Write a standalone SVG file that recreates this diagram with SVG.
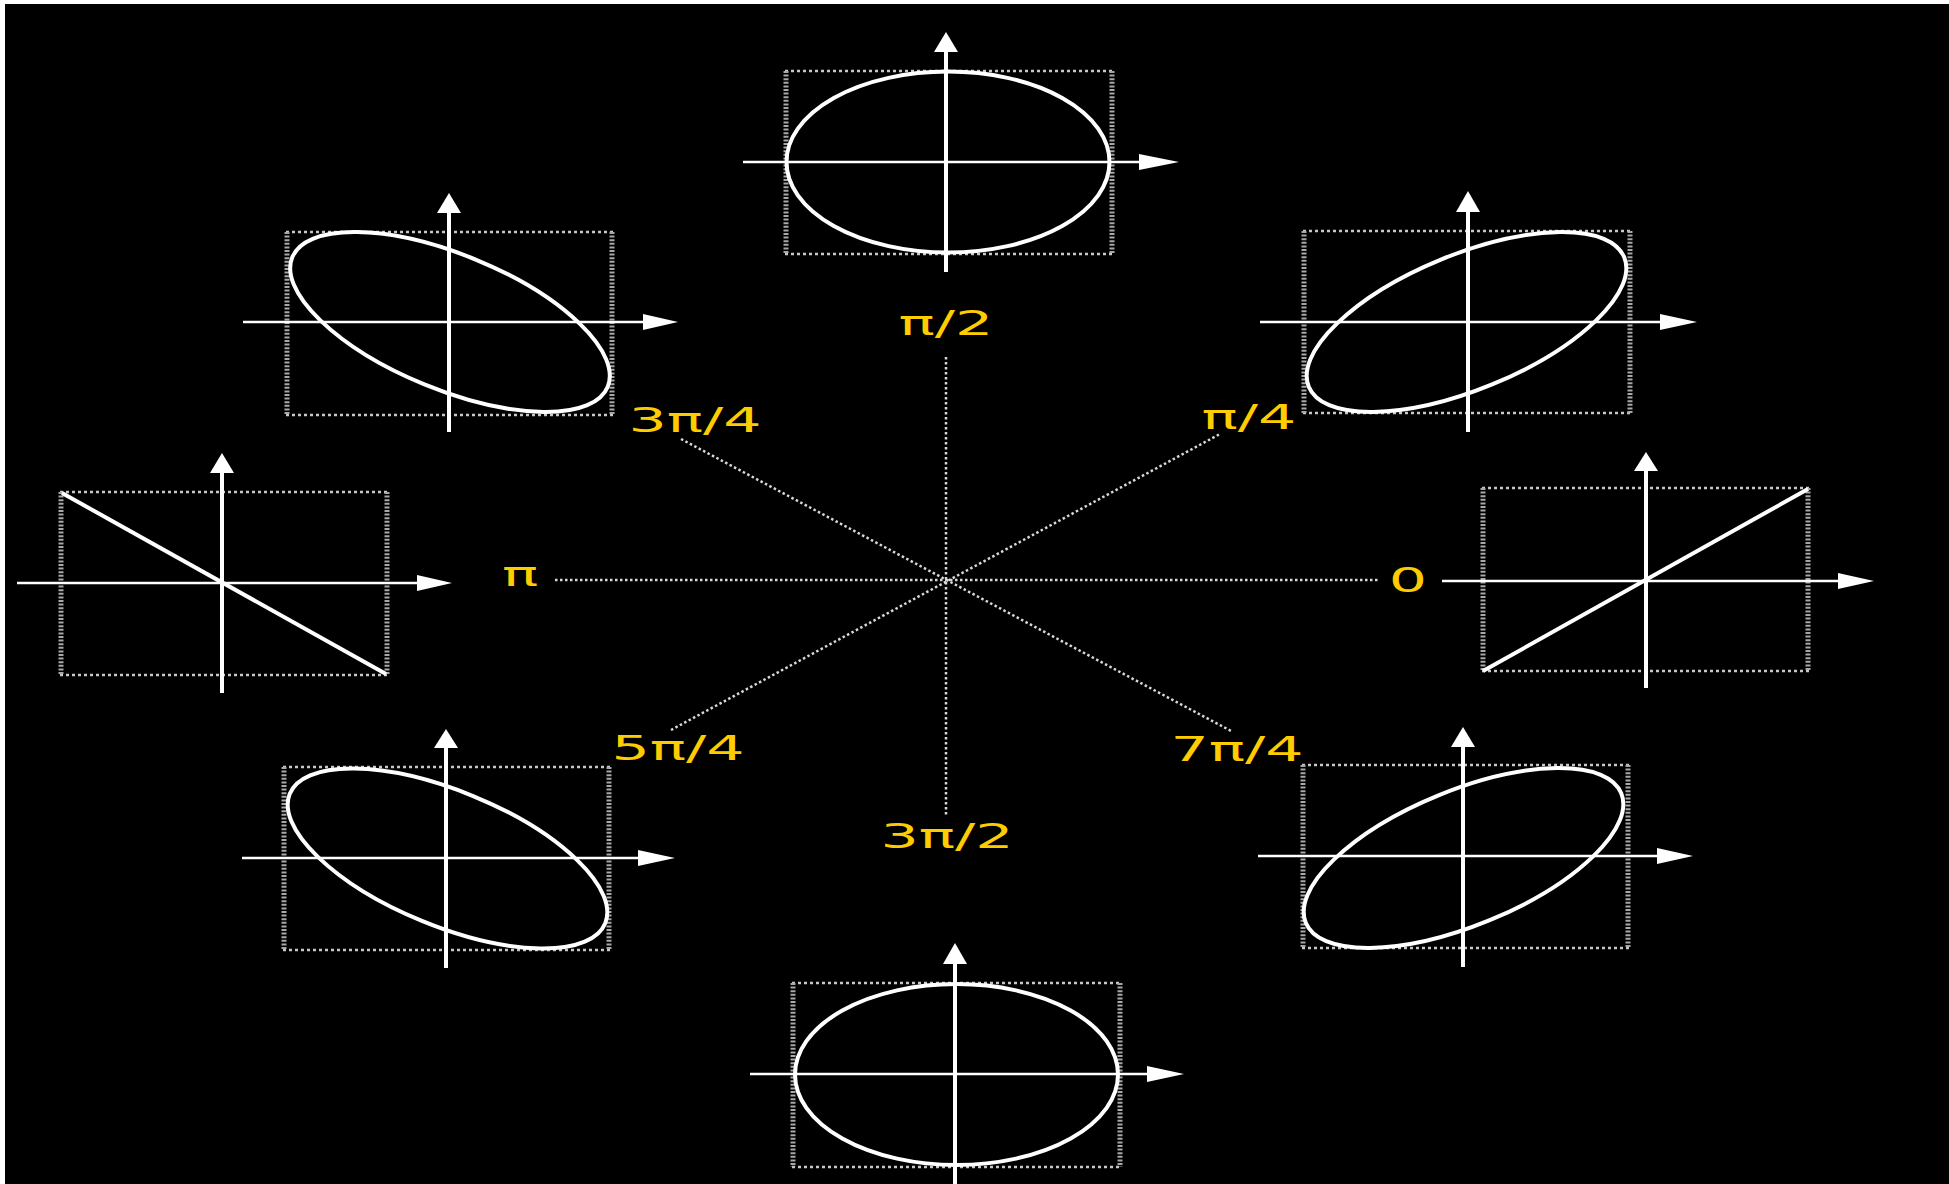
<svg xmlns="http://www.w3.org/2000/svg" width="1949" height="1184" viewBox="0 0 1949 1184">
<style>
.fh{stroke:#c8c8c8;stroke-width:2.5;stroke-dasharray:3 3;fill:none}
.fv{stroke:#a8a8a8;stroke-width:5;stroke-dasharray:2 1.6;fill:none}
.ax{stroke:#fff;stroke-width:2.5}
.ay{stroke:#fff;stroke-width:4}
.ah{fill:#fff}
.cv{stroke:#fff;stroke-width:4;fill:none}
.sp{stroke:#d8d8d8;stroke-width:2.5;stroke-dasharray:2.5 2.5;fill:none}
.lb{font-family:"DejaVu Sans","Liberation Sans",sans-serif;font-size:34px;fill:#FFCC00;text-anchor:middle}
</style>
<rect x="0" y="0" width="1949" height="1184" fill="#fff"/>
<rect x="5" y="4" width="1944" height="1180" fill="#000"/>

<g id="spokes">
<line class="sp" x1="946" y1="357" x2="946" y2="816"/>
<line class="sp" x1="555" y1="580" x2="1379" y2="580"/>
<line class="sp" x1="681" y1="439" x2="1233" y2="732"/>
<line class="sp" x1="671" y1="730" x2="1220" y2="434"/>
</g>

<g id="node-pi2">
<line class="fh" x1="785" y1="71" x2="1113" y2="71"/><line class="fh" x1="785" y1="254" x2="1113" y2="254"/>
<line class="fv" x1="786" y1="71" x2="786" y2="254"/><line class="fv" x1="1112" y1="71" x2="1112" y2="254"/>
<line class="ax" x1="743" y1="162" x2="1140" y2="162"/><polygon class="ah" points="1139,154 1179,162 1139,170"/>
<line class="ay" x1="946" y1="52" x2="946" y2="272"/><polygon class="ah" points="934,52 946,32 958,52"/>
<ellipse class="cv" cx="948" cy="162" rx="161.5" ry="90.5"/>
</g>

<g id="node-3pi4">
<line class="fh" x1="286" y1="232" x2="613" y2="232"/><line class="fh" x1="286" y1="415" x2="613" y2="415"/>
<line class="fv" x1="287" y1="232" x2="287" y2="415"/><line class="fv" x1="612" y1="232" x2="612" y2="415"/>
<line class="ax" x1="243" y1="322" x2="644" y2="322"/><polygon class="ah" points="643,314 678,322 643,330"/>
<line class="ay" x1="449" y1="213" x2="449" y2="432"/><polygon class="ah" points="437,213 449,193 461,213"/>
<ellipse class="cv" cx="0" cy="0" rx="170.5" ry="67.5" transform="translate(450 322) rotate(22.3)"/>
</g>

<g id="node-pi">
<line class="fh" x1="60" y1="492" x2="388" y2="492"/><line class="fh" x1="60" y1="675" x2="388" y2="675"/>
<line class="fv" x1="61" y1="492" x2="61" y2="675"/><line class="fv" x1="387" y1="492" x2="387" y2="675"/>
<line class="ax" x1="17" y1="583" x2="418" y2="583"/><polygon class="ah" points="417,575 452,583 417,591"/>
<line class="ay" x1="222" y1="473" x2="222" y2="693"/><polygon class="ah" points="210,473 222,453 234,473"/>
<line class="cv" x1="62" y1="493" x2="386" y2="674"/>
</g>

<g id="node-0">
<line class="fh" x1="1482" y1="488" x2="1809" y2="488"/><line class="fh" x1="1482" y1="671" x2="1809" y2="671"/>
<line class="fv" x1="1483" y1="488" x2="1483" y2="671"/><line class="fv" x1="1808" y1="488" x2="1808" y2="671"/>
<line class="ax" x1="1442" y1="581" x2="1839" y2="581"/><polygon class="ah" points="1838,573 1874,581 1838,589"/>
<line class="ay" x1="1646" y1="471" x2="1646" y2="688"/><polygon class="ah" points="1634,471 1646,452 1658,471"/>
<line class="cv" x1="1483" y1="671" x2="1808" y2="489"/>
</g>

<g id="node-pi4">
<line class="fh" x1="1303" y1="231" x2="1631" y2="231"/><line class="fh" x1="1303" y1="413" x2="1631" y2="413"/>
<line class="fv" x1="1304" y1="231" x2="1304" y2="413"/><line class="fv" x1="1630" y1="231" x2="1630" y2="413"/>
<line class="ax" x1="1260" y1="322" x2="1661" y2="322"/><polygon class="ah" points="1660,314 1697,322 1660,330"/>
<line class="ay" x1="1468" y1="212" x2="1468" y2="432"/><polygon class="ah" points="1456,212 1468,191 1480,212"/>
<ellipse class="cv" cx="0" cy="0" rx="170.5" ry="67.5" transform="translate(1466.5 322) rotate(-22.3)"/>
</g>

<g id="node-5pi4">
<line class="fh" x1="283" y1="767" x2="610" y2="767"/><line class="fh" x1="283" y1="950" x2="610" y2="950"/>
<line class="fv" x1="284" y1="767" x2="284" y2="950"/><line class="fv" x1="609" y1="767" x2="609" y2="950"/>
<line class="ax" x1="242" y1="858" x2="639" y2="858"/><polygon class="ah" points="638,850 675,858 638,866"/>
<line class="ay" x1="446" y1="748" x2="446" y2="968"/><polygon class="ah" points="434,748 446,729 458,748"/>
<ellipse class="cv" cx="0" cy="0" rx="170.5" ry="67.5" transform="translate(447.5 858.5) rotate(22.3)"/>
</g>

<g id="node-7pi4">
<line class="fh" x1="1302" y1="765" x2="1629" y2="765"/><line class="fh" x1="1302" y1="948" x2="1629" y2="948"/>
<line class="fv" x1="1303" y1="765" x2="1303" y2="948"/><line class="fv" x1="1628" y1="765" x2="1628" y2="948"/>
<line class="ax" x1="1258" y1="856" x2="1658" y2="856"/><polygon class="ah" points="1657,848 1693,856 1657,864"/>
<line class="ay" x1="1463" y1="747" x2="1463" y2="967"/><polygon class="ah" points="1451,747 1463,727 1475,747"/>
<ellipse class="cv" cx="0" cy="0" rx="170.5" ry="67.5" transform="translate(1463.5 858) rotate(-22.3)"/>
</g>

<g id="node-3pi2">
<line class="fh" x1="792" y1="983" x2="1121" y2="983"/><line class="fh" x1="792" y1="1167" x2="1121" y2="1167"/>
<line class="fv" x1="793" y1="983" x2="793" y2="1167"/><line class="fv" x1="1120" y1="983" x2="1120" y2="1167"/>
<line class="ax" x1="750" y1="1074" x2="1148" y2="1074"/><polygon class="ah" points="1147,1066 1184,1074 1147,1082"/>
<line class="ay" x1="955" y1="964" x2="955" y2="1184"/><polygon class="ah" points="943,964 955,943 967,964"/>
<ellipse class="cv" cx="956.5" cy="1074.5" rx="161.5" ry="90.5"/>
</g>

<g id="labels">
<text class="lb" transform="translate(946 335) scale(1.77 1)">π/2</text>
<text class="lb" transform="translate(695 432) scale(1.77 1)">3π/4</text>
<text class="lb" transform="translate(1249 429) scale(1.77 1)">π/4</text>
<text class="lb" transform="translate(520 586) scale(1.77 1)">π</text>
<text class="lb" transform="translate(1408 592) scale(1.77 1)">0</text>
<text class="lb" transform="translate(678 760) scale(1.77 1)">5π/4</text>
<text class="lb" transform="translate(1237 761) scale(1.77 1)">7π/4</text>
<text class="lb" transform="translate(947 848) scale(1.77 1)">3π/2</text>
</g>
</svg>
